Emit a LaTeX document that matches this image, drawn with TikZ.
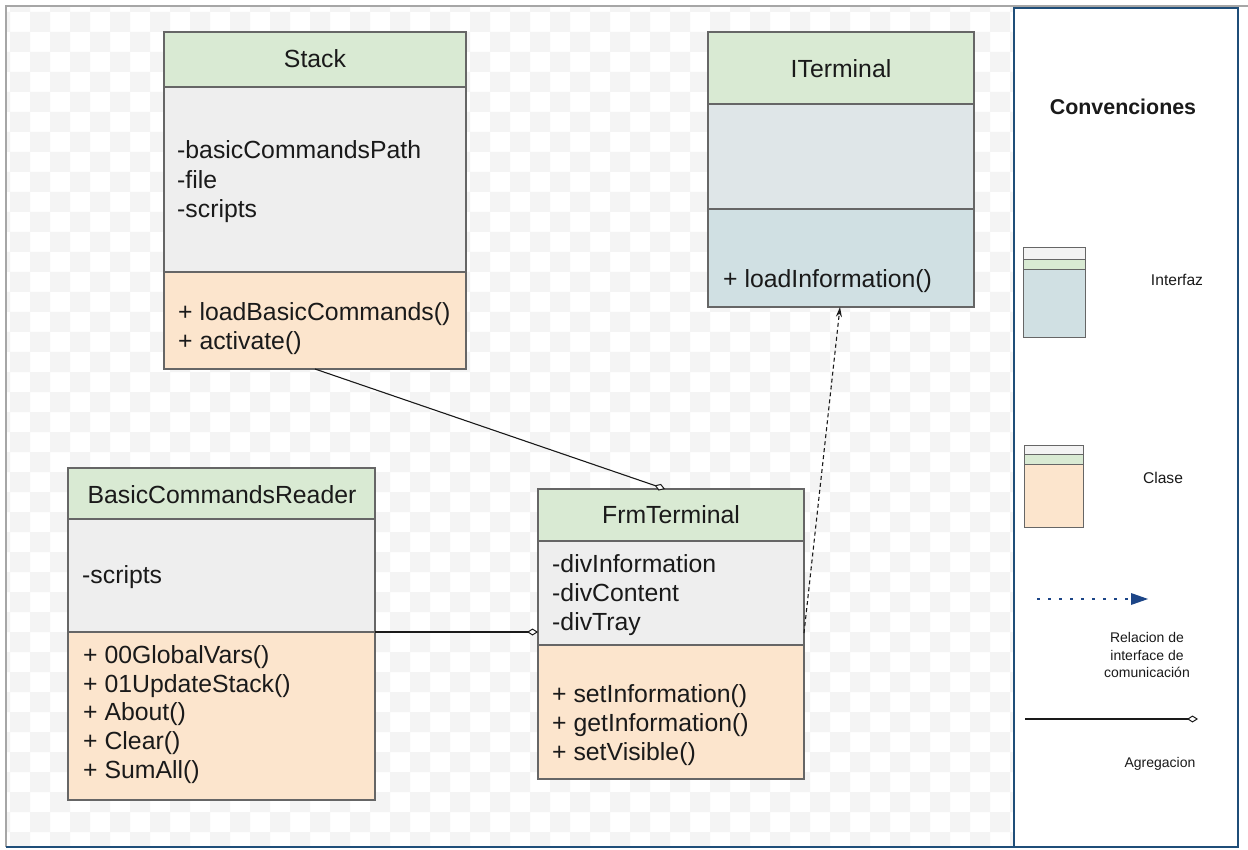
\documentclass[tikz,border=0pt]{standalone}
\usepackage{fontspec}
\setmainfont{Liberation Sans}
\usetikzlibrary{arrows.meta,calc}
\definecolor{hdr}{HTML}{D9EAD3}
\definecolor{attrc}{HTML}{EEEEEE}
\definecolor{meth}{HTML}{FCE5CD}
\definecolor{ifmid}{HTML}{DFE6E8}
\definecolor{ifbot}{HTML}{D0E0E3}
\definecolor{edgec}{HTML}{666666}
\definecolor{legblue}{HTML}{1F4E79}
\definecolor{dotblue}{HTML}{1C4587}
\definecolor{chk}{HTML}{F4F4F4}
\definecolor{ink}{HTML}{1A1A1A}
\definecolor{topband}{HTML}{F3F3F3}
\newcommand\mksect[6]{\node[sect, fill=#6, minimum width=#4pt, minimum height=#5pt] (#1) at (#2,#3) {};}
\newcommand\txtline[4]{\node[txtl] (#1) at (#2,#3) {#4};}
\begin{document}
\begin{tikzpicture}[x=1pt,y=-1pt,
  sect/.style={draw=edgec, line width=1.2pt, anchor=north west, inner sep=0pt, outer sep=0pt},
  lsect/.style={sect, line width=0.9pt},
  txtl/.style={anchor=base west, inner sep=0pt, text=ink, font=\fontsize{24.8}{29}\selectfont},
  ttl/.style={anchor=base, inner sep=0pt, text=ink, font=\fontsize{24.8}{29}\selectfont},
  legtxt/.style={inner sep=0pt, text=ink, font=\fontsize{15.6}{18}\selectfont},
  legsmall/.style={inner sep=0pt, text=ink, align=center, font=\fontsize{14}{17.5}\selectfont},
  aggr/.style={line width=1.1pt, draw=ink, -{Diamond[open, fill=white, length=11pt, width=7pt, line width=1pt]}},
  realiz/.style={line width=1.1pt, draw=ink, dash pattern=on 4pt off 3pt, -{Stealth[length=10pt, width=6pt]}}
]
\useasboundingbox (0,0) rectangle (1248,850);
\fill[white] (0,0) rectangle (1248,850);
% checkered background
\begin{scope}
\clip (6,6) rectangle (1013,847);
\fill[chk, even odd rule]
  \foreach \j in {0,...,21} { (0,{-8+40*\j}) rectangle (1248,{12+40*\j}) }
  \foreach \i in {0,...,31} { ({-10+40*\i},0) rectangle ({10+40*\i},850) };
\end{scope}
% outer frame
\draw[gray!70, line width=1.6pt] (1248,6) -- (6,6) -- (6,847);
% legend panel
\node[draw=legblue, line width=2.6pt, fill=white, anchor=north west, inner sep=0pt, outer sep=0pt, minimum width=224pt, minimum height=839pt] (legend) at (1014,8) {};
\draw[legblue, line width=2.6pt] (6,847) -- (1238,847);

% Stack
\mksect{stackH}{164}{32}{302}{55}{hdr}
\mksect{stackA}{164}{87}{302}{185}{attrc}
\mksect{stackM}{164}{272}{302}{97}{meth}
\node[ttl] (stackT) at (315,68) {Stack};
\txtline{stackA1}{177}{159}{-basicCommandsPath}
\txtline{stackA2}{177}{188.5}{-file}
\txtline{stackA3}{177}{218}{-scripts}
\txtline{stackM1}{178}{320.5}{+ loadBasicCommands()}
\txtline{stackM2}{178}{350}{+ activate()}

% ITerminal
\mksect{itH}{708}{32}{266}{72}{hdr}
\mksect{itA}{708}{104}{266}{105}{ifmid}
\mksect{itM}{708}{209}{266}{98}{ifbot}
\node[ttl] (itT) at (841,77.5) {ITerminal};
\txtline{itM1}{723}{288}{+ loadInformation()}

% BasicCommandsReader
\mksect{bcrH}{68}{468}{307}{51}{hdr}
\mksect{bcrA}{68}{519}{307}{113}{attrc}
\mksect{bcrM}{68}{632}{307}{168}{meth}
\node[ttl] (bcrT) at (222,503) {BasicCommandsReader};
\txtline{bcrA1}{82}{583}{-scripts}
\txtline{bcrM1}{83}{663}{+ 00GlobalVars()}
\txtline{bcrM2}{83}{692}{+ 01UpdateStack()}
\txtline{bcrM3}{83}{720.5}{+ About()}
\txtline{bcrM4}{83}{749}{+ Clear()}
\txtline{bcrM5}{83}{778}{+ SumAll()}

% FrmTerminal
\mksect{frmH}{538}{489}{266}{52}{hdr}
\mksect{frmA}{538}{541}{266}{104}{attrc}
\mksect{frmM}{538}{645}{266}{134}{meth}
\node[ttl] (frmT) at (671,523) {FrmTerminal};
\txtline{frmA1}{552}{572}{-divInformation}
\txtline{frmA2}{552}{601}{-divContent}
\txtline{frmA3}{552}{630}{-divTray}
\txtline{frmM1}{552}{702}{+ setInformation()}
\txtline{frmM2}{552}{731}{+ getInformation()}
\txtline{frmM3}{552}{760}{+ setVisible()}

% connectors
\draw[aggr] (stackM.south) -- ([xshift=-6pt]frmH.north);
\draw[aggr] (bcrA.south east) -- (bcrA.south east -| frmA.west);
\coordinate (frmOut) at ($(frmA.south east)+(0,-12)$);
\draw[realiz] (frmOut) -- ([xshift=-1pt]itM.south);

% legend content
\node[inner sep=0pt, text=ink, font=\fontsize{21.4}{25}\selectfont\bfseries] (legT) at (1123,107) {Convenciones};
\node[lsect, fill=topband, minimum width=62pt, minimum height=12pt] (ifB1) at (1023,247) {};
\node[lsect, fill=hdr, minimum width=62pt, minimum height=10pt] (ifB2) at (1023,259) {};
\node[lsect, fill=ifbot, minimum width=62pt, minimum height=68pt] (ifB3) at (1023,269) {};
\node[legtxt] (ifL) at (1177,280) {Interfaz};
\node[lsect, fill=topband, minimum width=59pt, minimum height=9pt] (clB1) at (1024,445) {};
\node[lsect, fill=hdr, minimum width=59pt, minimum height=10pt] (clB2) at (1024,454) {};
\node[lsect, fill=meth, minimum width=59pt, minimum height=63pt] (clB3) at (1024,464) {};
\node[legtxt] (clL) at (1163,478) {Clase};
\coordinate (dotS) at (1037,599);
\coordinate (dotE) at (1148,599);
\draw[dotblue, line width=2.6pt, dash pattern=on 2.6pt off 8.4pt] (dotS) -- (1128,599);
\fill[dotblue] (dotE) -- (1131,593) -- (1131,605) -- cycle;
\node[legsmall] (relL) at (1147,655) {Relacion de\\interface de\\comunicación};
\coordinate (agS) at (1025,719);
\coordinate (agE) at (1198,719);
\draw[aggr] (agS) -- (agE);
\node[legsmall] (agL) at (1160,764) {Agregacion};
\end{tikzpicture}
\end{document}
